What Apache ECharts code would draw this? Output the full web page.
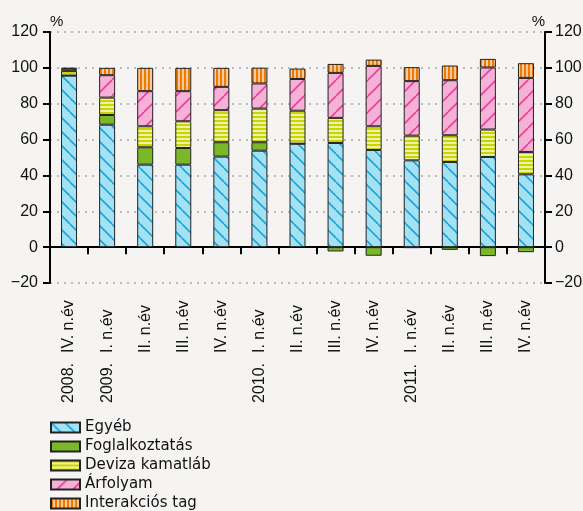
<!DOCTYPE html>
<html>
<head>
<meta charset="utf-8">
<script src="https://cdn.jsdelivr.net/npm/echarts@6/dist/echarts.min.js"></script>
<style>
html,body{margin:0;padding:0;background:#f5f4f2;}
#chart{width:583px;height:511px;}
</style>
</head>
<body>
<div id="chart"></div>
<script>
// ---- data ----
var quarters = ["IV. n.év","I. n.év","II. n.év","III. n.év","IV. n.év","I. n.év","II. n.év","III. n.év","IV. n.év","I. n.év","II. n.év","III. n.év","IV. n.év"];
var years = ["2008.","2009.","","","","2010.","","","","2011.","","",""];
var seriesNames = ["Egyéb","Foglalkoztatás","Deviza kamatláb","Árfolyam","Interakciós tag"];
var egyeb = [95.7, 68.3, 46.0, 46.0, 50.5, 53.8, 57.7, 58.1, 54.2, 48.4, 47.5, 50.3, 40.6];
var foglalkoztatas = [0, 5.4, 9.7, 9.3, 8.0, 4.7, 0, -2.4, -4.8, -0.5, -1.5, -5.0, -2.8];
var deviza = [2.6, 9.7, 11.7, 14.9, 17.9, 18.8, 18.4, 14.0, 13.2, 13.8, 14.9, 15.3, 12.5];
var arfolyam = [1.2, 12.5, 19.6, 16.8, 13.0, 14.0, 17.7, 25.1, 33.7, 30.4, 30.7, 34.6, 41.3];
var interakcio = [0.5, 4.1, 13.0, 13.0, 10.6, 8.8, 5.8, 5.0, 3.5, 7.8, 8.2, 4.8, 8.2];
var yTicks = {min: -20, max: 120, step: 20};

// ---- patterns ----
function diag(bg, fg, s, dir, lw) {
  var c = document.createElement('canvas');
  c.width = s; c.height = s;
  var g = c.getContext('2d');
  g.fillStyle = bg; g.fillRect(0, 0, s, s);
  g.strokeStyle = fg; g.lineWidth = lw;
  for (var k = -1; k <= 1; k++) {
    g.beginPath();
    if (dir === '\\') { g.moveTo(k * s, 0); g.lineTo(k * s + s, s); }
    else { g.moveTo(k * s, s); g.lineTo(k * s + s, 0); }
    g.stroke();
  }
  return {image: c, repeat: 'repeat'};
}
function stripes(c1, c2, horizontal) {
  var c = document.createElement('canvas');
  c.width = 4; c.height = 4;
  var g = c.getContext('2d');
  g.fillStyle = c2; g.fillRect(0, 0, 4, 4);
  g.fillStyle = c1;
  if (horizontal) g.fillRect(0, 0, 4, 2); else g.fillRect(0, 0, 2, 4);
  return {image: c, repeat: 'repeat'};
}
var fills = [
  diag('#a2e2f4', '#16a6da', 14, '\\', 1.6),
  '#7bb829',
  stripes('#c9d500', '#eef2a6', true),
  diag('#f6b1d6', '#e6409a', 16, '/', 1.6),
  stripes('#f07a00', '#fcc99a', false)
];
var dataArr = [egyeb, foglalkoztatas, deviza, arfolyam, interakcio];

var chart = echarts.init(document.getElementById('chart'), null, {renderer: 'canvas'});
var axisFont = {fontFamily: 'Liberation Sans, Arial, sans-serif', fontSize: 16, color: '#111'};
function fmt(v) { return String(v).replace('-', '\u2212'); }

var series = seriesNames.map(function (n, i) {
  return {
    name: n, type: 'bar', stack: 'total', xAxisIndex: 0, yAxisIndex: 0,
    barWidth: 16, data: dataArr[i],
    itemStyle: {color: fills[i], borderColor: '#222', borderWidth: 1},
    emphasis: {disabled: true}
  };
});

chart.setOption({
  backgroundColor: '#f5f4f2',
  animation: false,
  grid: {left: 50, right: 38, top: 32, bottom: 228, containLabel: false, outerBoundsMode: 'none'},
  legend: {
    orient: 'vertical', left: 50, top: 418, height: 110, itemGap: 0, itemWidth: 29, itemHeight: 10,
    icon: 'rect', selectedMode: false, padding: 0,
    textStyle: {fontFamily: 'DejaVu Sans, sans-serif', fontSize: 15, color: '#111', lineHeight: 19},
    data: seriesNames
  },
  xAxis: [
    {
      type: 'category', data: quarters, position: 'bottom',
      axisLine: {show: false, onZero: false}, axisTick: {show: false}, splitLine: {show: false},
      axisLabel: Object.assign({interval: 0, rotate: 90, align: 'left', verticalAlign: 'middle', margin: 70}, axisFont)
    },
    {
      type: 'category', data: quarters, position: 'bottom',
      axisLine: {show: true, onZero: true, lineStyle: {color: '#000', width: 2}},
      axisTick: {show: true, interval: 0, length: 7, lineStyle: {color: '#000', width: 2}},
      axisLabel: {show: false, interval: 0}, splitLine: {show: false}
    },
    {
      type: 'category', data: years, position: 'bottom',
      axisLine: {show: false, onZero: false}, axisTick: {show: false}, splitLine: {show: false},
      axisLabel: Object.assign({interval: 0, rotate: 90, align: 'left', verticalAlign: 'middle', margin: 120}, axisFont)
    }
  ],
  yAxis: [
    {
      type: 'value', position: 'left', min: yTicks.min, max: yTicks.max, interval: yTicks.step,
      name: '%', nameLocation: 'end', nameGap: 3,
      nameTextStyle: {fontFamily: 'Liberation Sans, Arial, sans-serif', fontSize: 15, color: '#111', align: 'left', verticalAlign: 'bottom'},
      axisLine: {show: true, onZero: false, lineStyle: {color: '#000', width: 2}},
      axisTick: {show: true, length: 7, lineStyle: {color: '#000', width: 2}},
      axisLabel: Object.assign({margin: 12, formatter: fmt}, axisFont),
      splitLine: {show: true, lineStyle: {color: '#a8a8a8', width: 1.5, type: [2, 5]}}
    },
    {
      type: 'value', position: 'right', min: yTicks.min, max: yTicks.max, interval: yTicks.step,
      name: '%', nameLocation: 'end', nameGap: 3,
      nameTextStyle: {fontFamily: 'Liberation Sans, Arial, sans-serif', fontSize: 15, color: '#111', align: 'right', verticalAlign: 'bottom'},
      axisLine: {show: true, onZero: false, lineStyle: {color: '#000', width: 2}},
      axisTick: {show: true, length: 7, lineStyle: {color: '#000', width: 2}},
      axisLabel: Object.assign({margin: 10, formatter: fmt}, axisFont),
      splitLine: {show: false}
    }
  ],
  series: series
});
</script>
</body>
</html>
